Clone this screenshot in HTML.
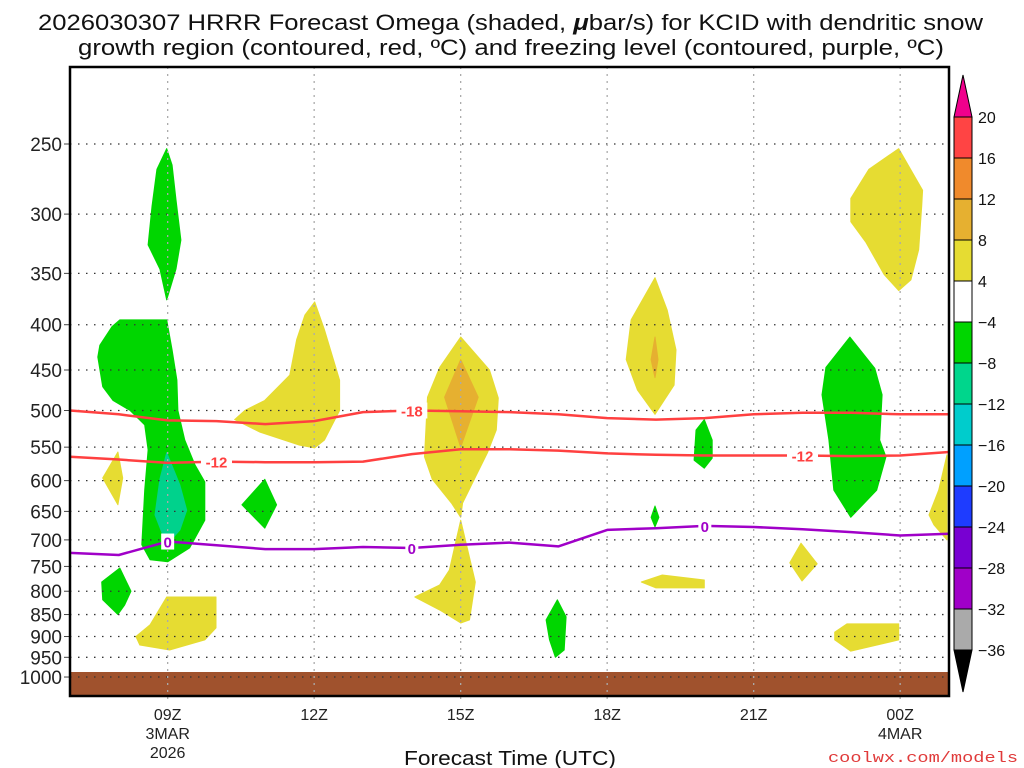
<!DOCTYPE html>
<html><head><meta charset="utf-8"><title>HRRR Omega KCID</title>
<style>
html,body{margin:0;padding:0;background:#fff;}
svg{display:block;font-family:"Liberation Sans",sans-serif;}
</style></head>
<body>
<svg id="chart" width="1024" height="768" viewBox="0 0 1024 768" xmlns="http://www.w3.org/2000/svg">
<text x="38" y="30" font-size="22" textLength="945" lengthAdjust="spacingAndGlyphs" fill="#111">2026030307 HRRR Forecast Omega (shaded, <tspan font-style="italic" font-weight="bold">μ</tspan>bar/s) for KCID with dendritic snow</text>
<text x="78" y="55" font-size="22" textLength="866" lengthAdjust="spacingAndGlyphs" fill="#111">growth region (contoured, red, ºC) and freezing level (contoured, purple, ºC)</text>
<g id="plot"></g>
<g id="cbar"></g>
<text x="510" y="765" font-size="20" text-anchor="middle" textLength="212" lengthAdjust="spacingAndGlyphs" fill="#111">Forecast Time (UTC)</text>
<text x="1018" y="762" font-size="15" text-anchor="end" fill="#e03a3a" font-family="Liberation Mono, monospace" textLength="190" lengthAdjust="spacingAndGlyphs">coolwx.com/models</text>
</svg>
<script>
// ---- data ----
const pressureTicks = [250,300,350,400,450,500,550,600,650,700,750,800,850,900,950,1000];
const timeTickHours = [2,5,8,11,14,17];
const timeTickLabels = ["09Z","12Z","15Z","18Z","21Z","00Z"];
const timeTickSub = [["3MAR","2026"],[],[],[],[],["4MAR"]];
const lineHours = [0,1,2,3,4,5,6,7,8,9,10,11,12,13,14,15,16,17,18];
const dgz18 = [500,505,513,514,518,514,502,500,501,502,505,510,512,510,505,503,503,505,505];
const dgz12 = [564,568,573,571,572,572,571,560,553,553,555,559,561,562,562,562,563,562,557];
const frz0 = [724,728,703,710,717,717,713,715,709,705,712,682,679,675,677,681,686,692,689];
const cbLevels = ["20","16","12","8","4","−4","−8","−12","−16","−20","−24","−28","−32","−36"];
const cbColors = ["#ff4444","#f08a2c","#e6b030","#e6dc32","#ffffff","#00d600","#00d68c","#00cccc","#00a0ff","#1e3cff","#7800d2","#a000c8","#aaaaaa"];
const greenBlobs = [
 [[1.98,253],[2.09,264],[2.17,289],[2.27,321],[2.17,346],[1.98,375],[1.84,346],[1.60,325],[1.68,294],[1.78,267]],
 [[1.02,395],[1.98,395],[2.09,427],[2.19,462],[2.21,500],[2.35,540],[2.56,576],[2.76,602],[2.76,665],[2.45,715],[2.0,741],[1.64,737],[1.47,709],[1.53,615],[1.60,554],[1.53,519],[1.23,500],[0.88,487],[0.67,470],[0.57,435],[0.61,422],[0.86,402]],
 [[3.99,598],[4.23,639],[3.99,679],[3.52,639]],
 [[1.02,753],[1.25,800],[1.12,829],[0.98,850],[0.67,818],[0.65,781]],
 [[9.98,818],[10.16,855],[10.12,932],[9.94,950],[9.82,908],[9.75,862]],
 [[12.99,512],[13.15,540],[13.15,566],[12.99,581],[12.78,569],[12.82,526]],
 [[11.98,641],[12.06,660],[11.98,677],[11.90,660]],
 [[15.97,413],[16.48,448],[16.63,480],[16.58,540],[16.71,564],[16.52,615],[15.99,660],[15.64,615],[15.54,540],[15.40,480],[15.48,447]]
];
const tealBlobs = [
 [[1.98,558],[2.25,607],[2.39,648],[2.25,682],[1.98,709],[1.74,656],[1.84,598]]
];
const yellowBlobs = [
 [[0.98,557],[1.08,596],[0.98,639],[0.67,596]],
 [[1.98,812],[2.99,812],[2.99,880],[2.76,908],[2.04,932],[1.43,920],[1.35,900],[1.64,873]],
 [[5.01,377],[5.21,405],[5.52,462],[5.52,500],[5.21,540],[5.01,551],[4.70,547],[3.89,529],[3.37,512],[3.58,500],[3.99,487],[4.50,456],[4.64,416],[4.81,390]],
 [[8.0,413],[8.59,450],[8.77,484],[8.73,526],[8.55,558],[8.24,604],[8.04,636],[8.0,660],[7.81,636],[7.42,598],[7.26,564],[7.32,483],[7.57,447]],
 [[8.0,665],[8.30,781],[8.18,862],[8.0,869],[7.57,840],[7.06,812],[7.57,787],[7.77,757]],
 [[11.98,354],[12.23,385],[12.41,427],[12.37,468],[11.98,505],[11.62,474],[11.39,438],[11.49,395]],
 [[11.70,781],[12.13,767],[12.99,777],[12.99,793],[12.0,793]],
 [[16.97,253],[17.46,282],[17.44,294],[17.38,329],[17.22,356],[16.97,366],[16.67,351],[16.30,323],[15.99,306],[15.99,288],[16.36,267]],
 [[14.97,706],[15.30,745],[14.99,779],[14.74,743]],
 [[15.91,871],[16.97,871],[16.97,908],[15.99,935],[15.66,908],[15.66,890]],
 [[17.96,561],[17.96,700],[17.69,673],[17.59,656],[17.79,615]]
];
const orangeBlobs = [
 [[8.0,438],[8.36,483],[8.0,550],[7.67,483]],
 [[11.98,413],[12.04,438],[11.98,459],[11.90,438]]
];
const labels18 = [7];
const labels12 = [3,15];
const labels0 = [2,7,13];

// ---- axes ----
const X0=70, X1=949, YT=67, YB=696, HMAX=18;
const xS = h => X0 + (X1-X0)*h/HMAX;
const yS = p => 144 + 384.5*Math.log(p/250);
const NS="http://www.w3.org/2000/svg";
function mk(tag, attrs, parent){const e=document.createElementNS(NS,tag);for(const k in attrs)e.setAttribute(k,attrs[k]);parent.appendChild(e);return e;}
const plot=document.getElementById('plot');
const cbar=document.getElementById('cbar');

// background ground
const ground=mk('rect',{x:X0,y:672,width:X1-X0,height:YB-672,fill:'#a0522d'},plot);



function blob(pts,color,name){
  const d='M'+pts.map(p=>xS(p[0]).toFixed(1)+','+yS(p[1]).toFixed(1)).join('L')+'Z';
  const e=mk('path',{d:d,fill:color,'stroke':color,'stroke-width':1,'stroke-linejoin':'round'},plot);
  
  
}
greenBlobs.forEach((b,i)=>blob(b,'#00d600','omega-green-region-'+i));
tealBlobs.forEach((b,i)=>blob(b,'#00d28c','omega-teal-region-'+i));
yellowBlobs.forEach((b,i)=>blob(b,'#e6dc32','omega-yellow-region-'+i));
orangeBlobs.forEach((b,i)=>blob(b,'#e6b030','omega-orange-region-'+i));

// grid
pressureTicks.forEach(p=>{
  const y=yS(p);
  const g=mk('line',{x1:X0,x2:X1,y1:y,y2:y,stroke:'#333','stroke-width':1.3,'stroke-dasharray':'1.5 6.5'},plot);
  
  
  const t=mk('line',{x1:X0-6,x2:X0,y1:y,y2:y,stroke:'#444','stroke-width':1},plot);
  
  
  const l=mk('text',{x:X0-8,y:y+7,'font-size':19,'text-anchor':'end',fill:'#222'},plot);
  l.textContent=p;
  
  
});
timeTickHours.forEach((h,i)=>{
  const x=xS(h);
  const g=mk('line',{x1:x,x2:x,y1:YT,y2:YB+8,stroke:'#aaa','stroke-width':1.3,'stroke-dasharray':'2 5'},plot);
  
  
  const l=mk('text',{x:x,y:YB+24,'font-size':16,'text-anchor':'middle',fill:'#222'},plot);
  l.textContent=timeTickLabels[i];
  
  
  timeTickSub[i].forEach((s,j)=>{
    const t=mk('text',{x:x,y:YB+43+j*19,'font-size':16,'text-anchor':'middle',fill:'#222'},plot);
    t.textContent=s;
    
    
  });
});

// contour lines
function cline(vals,color,name,labelHours,labelText){
  const d='M'+lineHours.map((h,i)=>xS(h).toFixed(1)+','+yS(vals[i]).toFixed(1)).join('L');
  const e=mk('path',{d:d,fill:'none',stroke:color,'stroke-width':2.5,'stroke-linejoin':'round'},plot);
  
  
  labelHours.forEach(h=>{
    const x=xS(h), y=yS(vals[h]);
    const w=labelText.length*9+4;
    const r=mk('rect',{x:x-w/2,y:y-8,width:w,height:16,fill:'#fff'},plot);
    
    
    const t=mk('text',{x:x,y:y+6,'font-size':15,'font-weight':'bold','text-anchor':'middle',fill:color},plot);
    t.textContent=labelText;
    
    
  });
}
cline(dgz18,'#ff4040','dgz-minus18-contour',labels18,'-18');
cline(dgz12,'#ff4040','dgz-minus12-contour',labels12,'-12');
cline(frz0,'#a000c8','freezing-level-contour',labels0,'0');

// frame
const fr=mk('rect',{x:X0,y:YT,width:X1-X0,height:YB-YT,fill:'none',stroke:'#000','stroke-width':2.5},plot);



// colorbar
const CX=954, CW=18, CT=117, CH=41;
cbColors.forEach((c,i)=>{
  const r=mk('rect',{x:CX,y:CT+i*CH,width:CW,height:CH,fill:c,stroke:'#000','stroke-width':1},cbar);
  
  
});
cbLevels.forEach((s,i)=>{
  const t=mk('text',{x:978,y:CT+i*CH+6,'font-size':16,fill:'#111'},cbar);
  t.textContent=s;
  
  
});
const CB=CT+cbColors.length*CH;
const up=mk('polygon',{points:`${CX},${CT} ${CX+CW},${CT} ${CX+CW/2},${CT-42}`,fill:'#f0008c',stroke:'#000','stroke-width':1},cbar);


const dn=mk('polygon',{points:`${CX},${CB} ${CX+CW},${CB} ${CX+CW/2},${CB+42}`,fill:'#000',stroke:'#000','stroke-width':1},cbar);


</script>
</body></html>
